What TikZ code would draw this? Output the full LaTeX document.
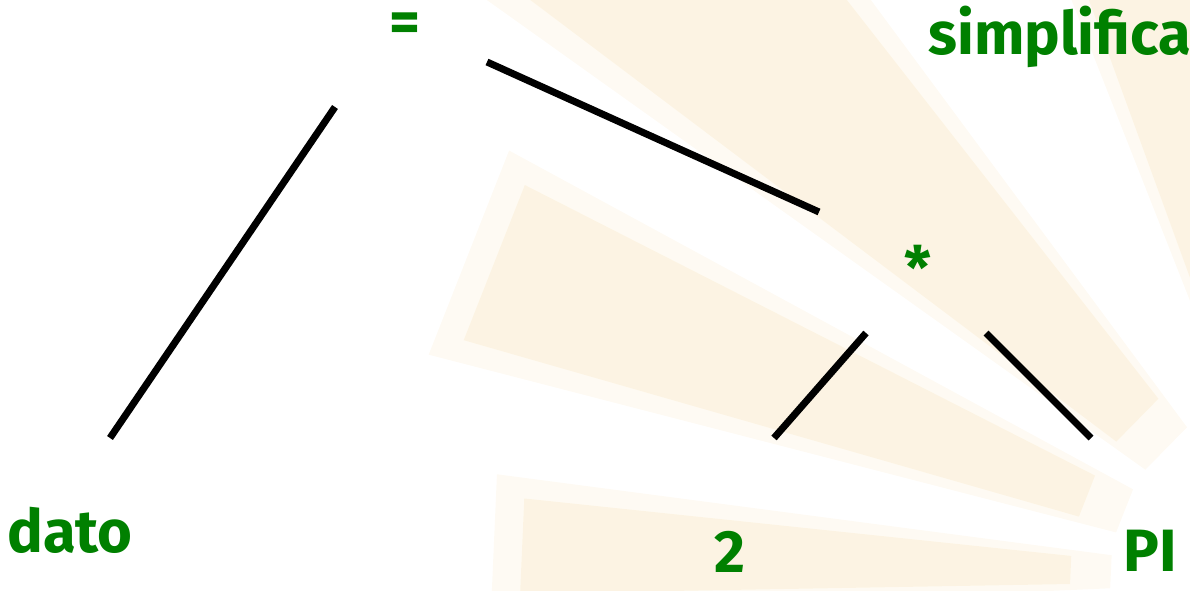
\documentclass[tikz,border=0pt]{standalone}
\usepackage{fontspec}
\setmainfont{Fira Sans}
\usepackage{tikz}
\usetikzlibrary{calc}

\definecolor{raycol}{RGB}{251,238,214}
\definecolor{termgreen}{RGB}{0,128,0}

\begin{document}
\begin{tikzpicture}[
    x=0.02cm, y=0.02cm,
    term/.style={text=termgreen, font=\fontsize{34}{40}\selectfont\bfseries, inner sep=0pt, anchor=base},
    edge/.style={line width=4pt, black},
    ray/.style={fill=raycol, draw=none}
]
\useasboundingbox (0,0) rectangle (1190,591);

% background rays, soft edge drawn as a wider faint band under a core band
\coordinate (sun) at (1300,11);
\foreach \a/\b/\r in {99/110/700, 128/143/1050, 153/164/870, 174/181/780}
{
  \fill[ray, opacity=0.3] ($(sun)+(\a-1.5:190)$) -- ($(sun)+(\a-1.5:\r+30)$) -- ($(sun)+(\b+1.5:\r+30)$) -- ($(sun)+(\b+1.5:190)$) -- cycle;
  \fill[ray, opacity=0.55] ($(sun)+(\a:230)$) -- ($(sun)+(\a:\r)$) -- ($(sun)+(\b:\r)$) -- ($(sun)+(\b:230)$) -- cycle;
}

\node[term] (eq) at (405,548) {=};
\node[term] (mul) at (918,301) {*};
\node[term] (dato) at (70,38) {dato};
\node[term] (two) at (730,18) {2};
\node[term] (pi) at (1150,19) {PI};
\node[term, anchor=base west] (simp) at (928,536) {simplifica};

\draw[edge] ($(eq.base)+(-70,-64)$) -- ($(dato.base)+(40,115)$);
\draw[edge] ($(eq.base)+(82,-19)$) -- ($(mul.base)+(-99,78)$);
\draw[edge] ($(mul.base)+(-52,-43)$) -- ($(two.base)+(44,135)$);
\draw[edge] ($(mul.base)+(68,-43)$) -- ($(pi.base)+(-59,134)$);
\end{tikzpicture}
\end{document}
